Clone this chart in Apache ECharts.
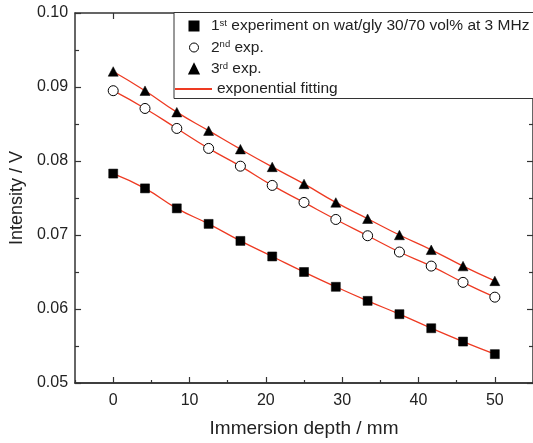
<!DOCTYPE html>
<html>
<head>
<meta charset="utf-8">
<script src="https://cdn.jsdelivr.net/npm/echarts@6/dist/echarts.min.js"></script>
<style>html,body{margin:0;padding:0;background:#fff;}#c{width:533px;height:443px;}</style>
</head>
<body>
<div id="c"></div>
<script>
// Immersion depth (mm)
const depth = [0, 4.167, 8.333, 12.5, 16.667, 20.833, 25, 29.167, 33.333, 37.5, 41.667, 45.833, 50];
// Intensity (V)
const exp1 = [0.0783, 0.0763, 0.0736, 0.0715, 0.0692, 0.0671, 0.0650, 0.0630, 0.0611, 0.0593, 0.0574, 0.0556, 0.0539];
const exp2 = [0.0895, 0.0871, 0.0844, 0.0817, 0.0793, 0.0767, 0.0744, 0.0721, 0.0699, 0.0677, 0.0658, 0.0636, 0.0616];
const exp3 = [0.0921, 0.0895, 0.0866, 0.0841, 0.0816, 0.0792, 0.0769, 0.0744, 0.0722, 0.0700, 0.0680, 0.0658, 0.0638];
const xTicks = [0, 10, 20, 30, 40, 50];
const xMinorTicks = [-5, 5, 15, 25, 35, 45, 55];
const yTicks = ['0.05', '0.06', '0.07', '0.08', '0.09', '0.10'];

const pairs = arr => depth.map((d, i) => [d, arr[i]]);
const red = '#ee3a22';
const ink = '#222';

const axisLine = {show: true, onZero: false, lineStyle: {color: '#333', width: 1.5}};
const font = 'Liberation Sans, Arial, sans-serif';
const tickStyle = {color: '#333', width: 1.2};

const chart = echarts.init(document.getElementById('c'));
const fitSeries = [exp1, exp2, exp3].map(a => ({
  name: 'exponential fitting', type: 'line', data: pairs(a), smooth: true,
  symbol: 'none', showSymbol: false, lineStyle: {color: red, width: 1.3}, itemStyle: {color: red}, z: 2, silent: true
}));
chart.setOption({
  animation: false,
  backgroundColor: '#fff',
  textStyle: {fontFamily: font},
  grid: {left: 74.5, right: -3, top: 13, bottom: 60, containLabel: false},
  xAxis: [{
    type: 'value', min: -5, max: 55, interval: 5, position: 'bottom',
    name: 'Immersion depth / mm', nameLocation: 'middle', nameGap: 36,
    nameTextStyle: {fontSize: 19, color: ink, fontFamily: font},
    axisLine: axisLine,
    axisTick: {show: true, inside: true, length: 6, customValues: xTicks, lineStyle: tickStyle},
    axisLabel: {fontSize: 16, color: ink, margin: 10, fontFamily: font, customValues: xTicks},
    splitLine: {show: false}
  }, {
    type: 'value', min: -5, max: 55, interval: 5, position: 'bottom',
    axisLine: axisLine,
    axisTick: {show: true, inside: true, length: 3, customValues: xMinorTicks, lineStyle: tickStyle},
    axisLabel: {show: false},
    splitLine: {show: false}
  }, {
    type: 'value', min: -5, max: 55, interval: 5, position: 'top',
    axisLine: axisLine,
    axisTick: {show: true, inside: true, length: 6, customValues: xTicks, lineStyle: tickStyle},
    axisLabel: {show: false}, splitLine: {show: false}
  }],
  yAxis: [{
    type: 'value', min: 0.05, max: 0.10, interval: 0.01, position: 'left',
    name: 'Intensity / V', nameLocation: 'middle', nameGap: 44,
    nameTextStyle: {fontSize: 18, color: ink, fontFamily: font},
    axisLine: axisLine,
    axisTick: {show: true, inside: true, length: 6, lineStyle: tickStyle},
    minorTick: {show: true, splitNumber: 2, length: 4, lineStyle: tickStyle},
    axisLabel: {fontSize: 16, color: ink, margin: 7, fontFamily: font,
      formatter: v => yTicks[Math.round((v - 0.05) * 100)]},
    splitLine: {show: false}
  }, {
    type: 'value', min: 0.05, max: 0.10, interval: 0.01, position: 'right',
    axisLine: axisLine,
    axisTick: {show: true, inside: true, length: 6, lineStyle: tickStyle},
    minorTick: {show: true, splitNumber: 2, length: 4, lineStyle: tickStyle},
    axisLabel: {show: false}, splitLine: {show: false}
  }],
  graphic: [{
    type: 'rect', z: 10, shape: {x: 174, y: 12.5, width: 420, height: 86},
    style: {fill: '#fff', stroke: '#333', lineWidth: 1}
  }],
  legend: [{
    orient: 'vertical', left: 188.5, top: 18, padding: 0, itemGap: 5.5, z: 20,
    itemWidth: 24, itemHeight: 9, symbolKeepAspect: true,
    data: [
      {name: 'exp1', icon: 'path://M0,0L8,0L8,8L0,8Z'},
      {name: 'exp2', icon: 'circle', itemStyle: {borderWidth: 1, color: '#fff', borderColor: '#000'}},
      {name: 'exp3', icon: 'path://M4,0L8,8L0,8Z'}
    ],
    formatter: n => ({
      exp1: '{n|1}{s|st}{n| experiment on wat/gly 30/70 vol% at 3 MHz}',
      exp2: '{n|2}{s|nd}{n| exp.}',
      exp3: '{n|3}{s|rd}{n| exp.}'
    })[n],
    textStyle: {color: ink, fontFamily: font,
      rich: {
        n: {fontSize: 15.5, lineHeight: 16, color: ink, fontFamily: font},
        s: {fontSize: 9.5, lineHeight: 16, verticalAlign: 'top', color: ink, fontFamily: font}
      }}
  }, {
    left: 174, top: 81, padding: 0, z: 20, itemWidth: 37, itemHeight: 12,
    data: [{name: 'exponential fitting'}],
    itemStyle: {opacity: 0},
    textStyle: {fontSize: 15.5, color: ink, fontFamily: font}
  }],
  series: fitSeries.concat([
    {name: 'exp1', type: 'scatter', data: pairs(exp1), symbol: 'rect', symbolSize: 9,
      itemStyle: {color: '#000', borderColor: '#000', borderWidth: 0.5, opacity: 1}, z: 3},
    {name: 'exp2', type: 'scatter', data: pairs(exp2), symbol: 'circle', symbolSize: 10,
      itemStyle: {color: '#fff', borderColor: '#000', borderWidth: 1, opacity: 1}, z: 3},
    {name: 'exp3', type: 'scatter', data: pairs(exp3), symbol: 'triangle', symbolSize: [10, 9.5],
      itemStyle: {color: '#000', borderColor: '#000', borderWidth: 0.5, opacity: 1}, z: 3}
  ])
});
</script>
</body>
</html>
